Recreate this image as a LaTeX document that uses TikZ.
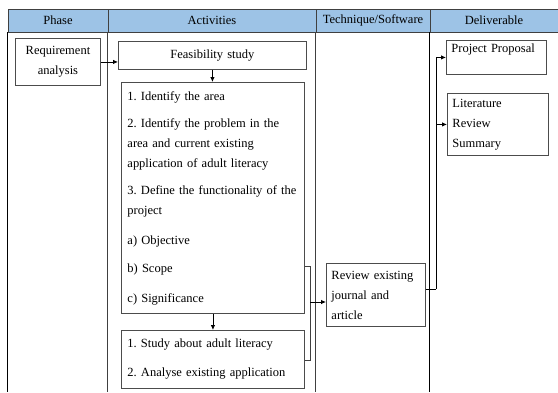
\documentclass[tikz,border=0pt]{standalone}
\usepackage{fontspec}
\setmainfont{Liberation Serif}
\usetikzlibrary{positioning,arrows.meta}
\definecolor{headblue}{RGB}{157,195,230}

\begin{document}
\begin{tikzpicture}[
  x=1pt, y=-1pt,
  font=\fontsize{12.5}{20}\selectfont\frenchspacing,
  headcell/.style={
    rectangle,
    draw=black!75,
    line width=0.8pt,
    fill=headblue,
    minimum height=23pt,
    inner sep=0pt
  },
  rule/.style={
    line width=0.9pt,
    draw=black!75
  },
  stepbox/.style={
    rectangle,
    draw=black!70,
    line width=0.9pt,
    anchor=north west,
    inner ysep=0pt,
    inner xsep=6pt,
    align=left
  },
  arr/.style={
    line width=0.8pt,
    -{Latex[length=5pt,width=4.5pt]}
  }]
  \useasboundingbox (0,0) rectangle (558,392);
  % header row
  \node[headcell, minimum width=100pt] (hphase) at (58,20.5) {Phase};
  \node[headcell, minimum width=208pt] (hact) at (212,20.5) {Activities};
  \node[headcell, minimum width=114pt] (htech) at (373,20.5) {Technique/Software};
  \node[headcell, minimum width=128pt] (hdel) at (494,20.5) {Deliverable};
  % column rules
  \draw[rule, draw=black] (hphase.south west) -- ++(0,360);
  \draw[rule] (hact.south west) -- ++(0,360);
  \draw[rule] (htech.south west) -- ++(0,360);
  \draw[rule, draw=black] (hdel.south west) -- ++(0,360);
  % boxes
  \node[stepbox, align=center, text width=85pt, inner xsep=0pt,
        minimum width=85pt, minimum height=47pt] (req) at (15,38)
    {Requirement\\analysis};
  \node[stepbox, align=center, text width=188pt, inner xsep=0pt,
        minimum width=188pt, minimum height=28pt] (feas) at (118,41)
    {Feasibility study};
  \node[stepbox, text width=171pt, minimum width=183pt,
        minimum height=231pt] (ident) at (121,82)
    {1. Identify the area\\[7pt]
     2. Identify the problem in the\\
     area and current existing\\
     application of adult literacy\\[7pt]
     \mbox{3. Define the functionality of the}\\
     project\\[10pt]
     a) Objective\\[8pt]
     b) Scope\\[10pt]
     c) Significance};
  \node[stepbox, text width=171pt, minimum width=183pt,
        minimum height=58pt] (study) at (121,330)
    {1. Study about adult literacy\\[9pt]
     2. Analyse existing application};
  \node[stepbox, text width=89pt, inner xsep=5pt, minimum width=99pt,
        minimum height=63pt] (review) at (326,263)
    {Review existing\\journal and\\article};
  \node[stepbox, text width=90pt, inner xsep=5pt, minimum width=100pt,
        minimum height=34pt] (proposal) at (446,40)
    {Project Proposal\\[-2pt]\mbox{}};
  \node[stepbox, text width=91pt, inner xsep=5pt, minimum width=101pt,
        minimum height=62pt] (lit) at (447,93)
    {Literature\\Review\\Summary};
  % connectors
  \coordinate (brtop) at (310,266);
  \coordinate (brbot) at (310,360);
  \coordinate (brmid) at (310,302);
  \coordinate (spine) at (436,289);
  \draw[arr] (req.east) -- (req.east -| feas.west);
  \draw[arr] (feas.south) -- (feas.south |- ident.north);
  \draw[arr] (ident.south) -- (ident.south |- study.north);
  \draw[rule] (ident.east |- brtop) -- (brtop) -- (brbot) -- (study.east |- brbot);
  \draw[arr] (brmid) -- (brmid -| review.west);
  \draw[line width=0.8pt] (review.east |- spine) -- (spine);
  \draw[arr] (spine) |- (proposal.west);
  \draw[arr] (lit.west -| spine) -- (lit.west);
\end{tikzpicture}
\end{document}
